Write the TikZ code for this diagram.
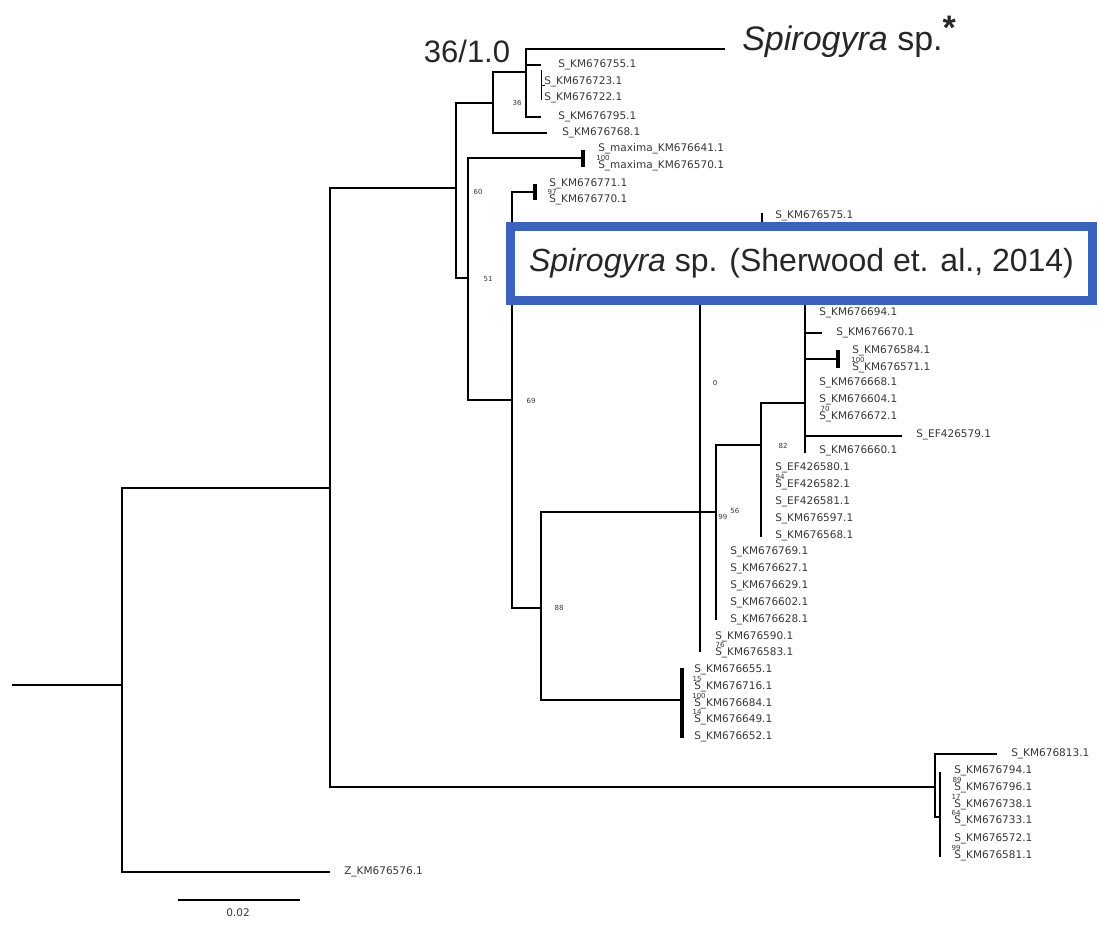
\documentclass[tikz,border=0pt]{standalone}
\usepackage{fontspec}
\setmainfont{Liberation Sans}
\newfontfamily\taxonfont{DejaVu Sans}
\usetikzlibrary{calc}

\definecolor{boxblue}{RGB}{58,98,190}
\definecolor{taxgray}{RGB}{55,55,55}

\begin{document}
\begin{tikzpicture}[x=1pt, y=-1pt, line width=2.6pt,
    taxon/.style={anchor=west, inner sep=0pt, text=taxgray, font=\taxonfont\fontsize{10.5}{12}\selectfont},
    support/.style={inner sep=0pt, text=taxgray, font=\taxonfont\fontsize{7}{8}\selectfont},
    clade/.style={line width=3.2pt}]
  \fill[white] (0,0) rectangle (1099,924);
  \useasboundingbox (0,0) rectangle (1099,924);

  % nodos internos
  \coordinate (root) at (12,685);
  \coordinate (n1) at (122,685);
  \coordinate (n2) at (330,488);
  \coordinate (n3) at (456,188);
  \coordinate (n4) at (935,787);
  \coordinate (n5) at (493,103);
  \coordinate (n6) at (468,278);
  \coordinate (n7) at (526,72);
  \coordinate (n8) at (583,158);
  \coordinate (n9) at (512,400);
  \coordinate (n10) at (535,192);
  \coordinate (n11) at (541,608);
  \coordinate (n12) at (700,512);
  \coordinate (n13) at (682,700);
  \coordinate (n14) at (716,512);
  \coordinate (n15) at (761,445);
  \coordinate (n16) at (805,403);
  \coordinate (n17) at (838,359);
  \coordinate (n18) at (940,817);

  % puntas con rama propia
  \coordinate (tSp) at (725,49);
  \coordinate (t755) at (541,65);
  \coordinate (t795) at (541,117);
  \coordinate (t768) at (547,133);
  \coordinate (t575) at (762,213);
  \coordinate (t670) at (822,333);
  \coordinate (t579) at (902,436);
  \coordinate (t813) at (997,754);
  \coordinate (tZ) at (330,872);

  % extremos de las verticales
  \coordinate (n12a) at (700,232);  \coordinate (n12b) at (700,652);
  \coordinate (n14b) at (716,620);
  \coordinate (n15b) at (761,537);
  \coordinate (n16a) at (805,232);  \coordinate (n16b) at (805,453);
  \coordinate (n4b) at (935,817);
  \coordinate (n18a) at (940,772);  \coordinate (n18b) at (940,857);

  % ramas
  \draw (root) -- (n1);
  \draw (n1) |- (n2);   \draw (n1) |- (tZ);
  \draw (n2) |- (n3);   \draw (n2) |- (n4);
  \draw (n3) |- (n5);   \draw (n3) |- (n6);
  \draw (n5) |- (n7);   \draw (n5) |- (t768);
  \draw (n7) |- (tSp);  \draw (n7) |- (t755);  \draw (n7) |- (t795);
  \draw (n6) |- (n8);   \draw (n6) |- (n9);
  \draw (n9) |- (n10);  \draw (n9) |- (n11);
  \draw (n11) |- (n12); \draw (n11) |- (n13);
  \draw (n12a) -- (n12b);
  \draw (n12) -- (n14);
  \draw (n14) |- (n15); \draw (n14) -- (n14b);
  \draw (n15) |- (n16); \draw (n15) -- (n15b);
  \draw (n16a) -- (n16b);
  \draw (n16) |- (t670); \draw (n16) |- (n17); \draw (n16) |- (t579);
  \draw (n4) |- (t813); \draw (n4) -- (n4b) -- (n18);
  \draw (n18a) -- (n18b);
  \draw[line width=1.2pt] (t575) -- ++(0,20);

  % barras de clados sin longitud
  \draw[clade] ($(n8)+(0,-8)$) -- ($(n8)+(0,9)$);
  \draw[clade] ($(n10)+(0,-8)$) -- ($(n10)+(0,8)$);
  \draw[clade] ($(n17)+(0,-9)$) -- ($(n17)+(0,9)$);
  \draw[clade] ($(n13)+(0,-32)$) -- ($(n13)+(0,38)$);
  \draw[line width=0.8pt] (541,70) -- (541,100);
  \draw[line width=0.8pt] (541,85) -- (545,85);

  % etiquetas
  \node[taxon] (l755) at (557,65) {S\_KM676755.1};
  \node[taxon] (l723) at (543,82) {S\_KM676723.1};
  \node[taxon] (l722) at (543,98) {S\_KM676722.1};
  \node[taxon] (l795) at (557,117) {S\_KM676795.1};
  \node[taxon] (l768) at (561,133) {S\_KM676768.1};
  \node[taxon] (l641) at (597,149) {S\_maxima\_KM676641.1};
  \node[taxon] (l570) at (597,166) {S\_maxima\_KM676570.1};
  \node[taxon] (l771) at (548,184) {S\_KM676771.1};
  \node[taxon] (l770) at (548,200) {S\_KM676770.1};
  \node[taxon] (l575) at (774,216) {S\_KM676575.1};
  \node[taxon] (l694) at (818,313) {S\_KM676694.1};
  \node[taxon] (l670) at (835,333) {S\_KM676670.1};
  \node[taxon] (l584) at (851,351) {S\_KM676584.1};
  \node[taxon] (l571) at (851,368) {S\_KM676571.1};
  \foreach \y/\id in {383/668, 400/604, 417/672, 451/660}
    \node[taxon] (l\id) at (818,\y) {S\_KM676\id.1};
  \node[taxon] (l579) at (915,435) {S\_EF426579.1};
  \foreach \y/\id in {468/580, 485/582, 502/581}
    \node[taxon] (l\id) at (774,\y) {S\_EF426\id.1};
  \node[taxon] (l597) at (774,519) {S\_KM676597.1};
  \node[taxon] (l568) at (774,536) {S\_KM676568.1};
  \foreach \y/\id in {552/769, 569/627, 586/629, 603/602, 620/628}
    \node[taxon] (l\id) at (729,\y) {S\_KM676\id.1};
  \node[taxon] (l590) at (714,637) {S\_KM676590.1};
  \node[taxon] (l583) at (714,653) {S\_KM676583.1};
  \foreach \y/\id in {670/655, 687/716, 704/684, 720/649, 737/652}
    \node[taxon] (l\id) at (693,\y) {S\_KM676\id.1};
  \node[taxon] (l813) at (1010,754) {S\_KM676813.1};
  \foreach \y/\id in {771/794, 788/796, 805/738, 821/733, 839/572, 856/581}
    \node[taxon] (l\id) at (953,\y) {S\_KM676\id.1};
  \node[taxon] (lZ) at (343,872) {Z\_KM676576.1};

  % soportes
  \node[support] (s36) at (517,103) {36};
  \node[support] (s60) at (478,192) {60};
  \node[support] (s51) at (488,279) {51};
  \node[support] (s69) at (531,401) {69};
  \node[support] (s88) at (559,608) {88};
  \node[support] (s0)  at (715,383) {0};
  \node[support, anchor=west] (s99) at (717,517) {99};
  \node[support, anchor=west] (s56) at (729,511) {56};
  \node[support] (s82) at (783,446) {82};
  \node[support] (s100a) at (603,157.5) {100};
  \node[support] (s97) at (552,192) {97};
  \node[support] (s100b) at (858,359.5) {100};
  \node[support] (s70) at (825,408.5) {70};
  \node[support] (s94) at (780,476.5) {94};
  \node[support] (s76) at (720,645) {76};
  \node[support] (s15) at (697,678.5) {15};
  \node[support] (s100c) at (699,695.5) {100};
  \node[support] (s14) at (697,712) {14};
  \node[support] (s89) at (957,779.5) {89};
  \node[support] (s17) at (956,796.5) {17};
  \node[support] (s64) at (956,813) {64};
  \node[support] (s99b) at (956,847.5) {99};

  % rotulos grandes
  \node[anchor=base, inner sep=0pt, text=black!85, font=\fontsize{31}{34}\selectfont] (bs) at (467,62) {36/1.0};
  \node[anchor=base west, inner sep=0pt, text=black!85, font=\fontsize{34}{38}\selectfont] (sp) at (741,50)
    {\itshape Spirogyra\upshape\ sp.\raisebox{11pt}{\bfseries *}};
  \node[draw=boxblue, line width=9pt, fill=white, minimum width=582pt, minimum height=74pt, inner sep=0pt,
        text=black!85, font=\fontsize{32}{36}\selectfont] (sher) at (801.5,263.5)
    {\itshape Spirogyra\upshape\ sp. (Sherwood et. al., 2014)};

  % escala
  \coordinate (sb1) at (178,900);
  \coordinate (sb2) at (300,900);
  \draw[line width=1.5pt] (sb1) -- (sb2);
  \node[taxon, anchor=center] (sbl) at (238,913) {0.02};
\end{tikzpicture}
\end{document}
